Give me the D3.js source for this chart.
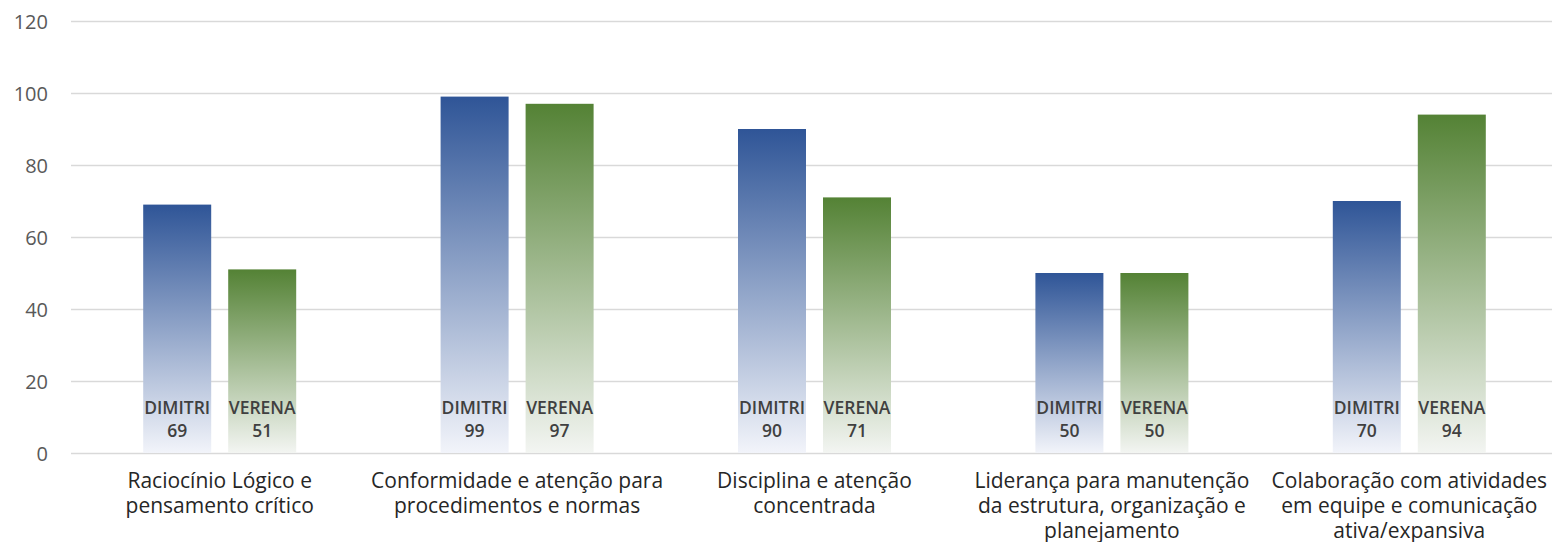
<!DOCTYPE html>
<html>
<head>
<meta charset="utf-8">
<script src="https://cdn.jsdelivr.net/npm/d3@7"></script>
<style>
html,body{margin:0;padding:0;background:#fff;}
svg{display:block;}
</style>
</head>
<body>
<svg id="chart" width="1552" height="542"></svg>
<script>
const categories = [
  ["Raciocínio Lógico e", "pensamento crítico"],
  ["Conformidade e atenção para", "procedimentos e normas"],
  ["Disciplina e atenção", "concentrada"],
  ["Liderança para manutenção", "da estrutura, organização e", "planejamento"],
  ["Colaboração com atividades", "em equipe e comunicação", "ativa/expansiva"]
];
const seriesNames = ["DIMITRI", "VERENA"];
const dimitri = [69, 99, 90, 50, 70];
const verena = [51, 97, 71, 50, 94];
const yTicks = [0, 20, 40, 60, 80, 100, 120];

const seriesValues = [dimitri, verena];
const gradStops = [
  ["#2F5597", "#F2F4FA"],
  ["#548235", "#F3F5F2"]
];

const svg = d3.select("#chart");
const W = 1552, H = 542;
const margin = {left: 71, top: 21, bottom: 89};
const bandRight = 1558;
const font = "'Open Sans', sans-serif";

const x0 = d3.scaleBand().domain(d3.range(categories.length)).range([margin.left, bandRight]).paddingInner(0).paddingOuter(0);
const groupW = 153;
const x1 = d3.scaleBand().domain(d3.range(seriesNames.length)).range([0, groupW]).paddingInner(0.2).paddingOuter(0);
const y = d3.scaleLinear().domain([0, 120]).range([H - margin.bottom, margin.top]);

const defs = svg.append("defs");
gradStops.forEach((g, i) => {
  const lg = defs.append("linearGradient").attr("id", "grad" + i)
    .attr("x1", 0).attr("y1", 0).attr("x2", 0).attr("y2", 1);
  lg.append("stop").attr("offset", "0%").attr("stop-color", g[0]);
  lg.append("stop").attr("offset", "100%").attr("stop-color", g[1]);
});

// gridlines
const yAxis = d3.axisLeft(y).tickValues(yTicks).tickSize(-(W - margin.left)).tickPadding(23);
const ga = svg.append("g").attr("transform", `translate(${margin.left},0)`).call(yAxis);
ga.select(".domain").remove();
ga.selectAll(".tick line").attr("stroke", "#d9d9d9").attr("stroke-width", 1.5);
ga.selectAll(".tick text").attr("fill", "#595959").attr("dy", "0.36em")
  .style("font-family", font).style("font-size", "20px");

// bars
const groups = svg.append("g").selectAll("g").data(categories).join("g")
  .attr("transform", (d, i) => `translate(${x0(i) + (x0.bandwidth() - groupW) / 2},0)`);

groups.each(function(cat, ci) {
  const g = d3.select(this);
  seriesNames.forEach((s, si) => {
    const v = seriesValues[si][ci];
    g.append("rect")
      .attr("x", x1(si)).attr("width", x1.bandwidth())
      .attr("y", y(v)).attr("height", y(0) - y(v))
      .attr("fill", `url(#grad${si})`);
    const cx = x1(si) + x1.bandwidth() / 2;
    g.append("text").attr("x", cx).attr("y", y(0) - 39)
      .attr("text-anchor", "middle").attr("fill", "#404040")
      .style("font-family", font).style("font-weight", "600").style("font-size", "17.5px")
      .text(s);
    g.append("text").attr("x", cx).attr("y", y(0) - 16)
      .attr("text-anchor", "middle").attr("fill", "#404040")
      .style("font-family", font).style("font-weight", "600").style("font-size", "17.5px")
      .text(v);
  });
});

// category labels
categories.forEach((lines, i) => {
  const cx = x0(i) + x0.bandwidth() / 2;
  const t = svg.append("text").attr("text-anchor", "middle").attr("fill", "#262626")
    .style("font-family", font).style("font-size", "21px");
  lines.forEach((ln, li) => {
    t.append("tspan").attr("x", cx).attr("y", y(0) + 35 + li * 25).text(ln);
  });
});
</script>
</body>
</html>
